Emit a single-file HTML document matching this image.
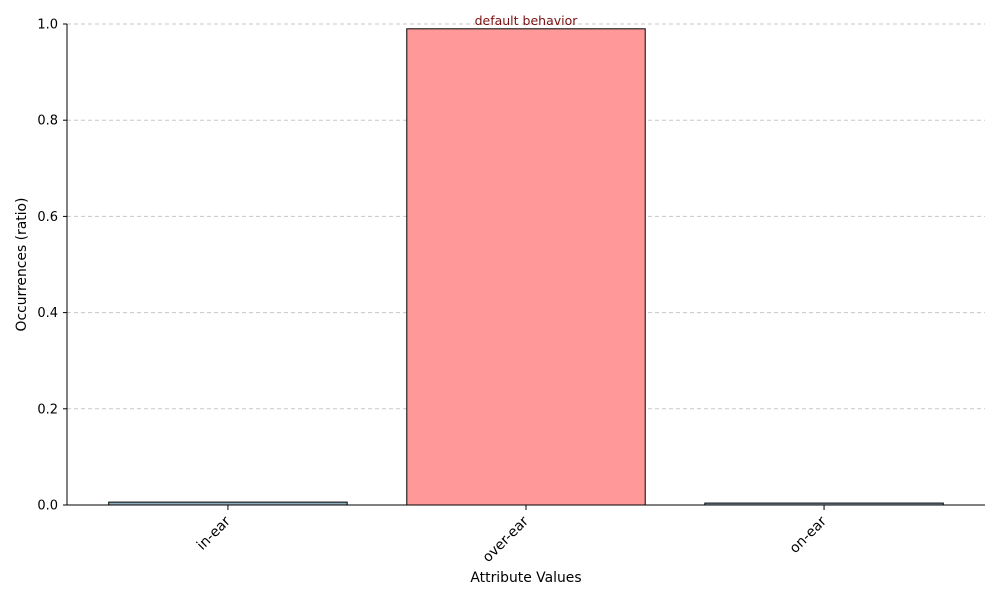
<!DOCTYPE html>
<html><head><meta charset="utf-8"><style>
body{margin:0;background:#fff;}
svg{display:block;font-family:"DejaVu Sans","Liberation Sans",sans-serif;}
</style></head><body>
<svg id="chart" width="1000" height="600"></svg>
<script>
const categories=["in-ear","over-ear","on-ear"];
const values=[0.006,0.99,0.004];
const colors=["#8fb0bb","#ff9999","#8fb0bb"];
const yTicks=[0,0.2,0.4,0.6,0.8,1.0];
const yTickLabels=["0.0","0.2","0.4","0.6","0.8","1.0"];
const annotationText="default behavior";

const NS="http://www.w3.org/2000/svg";
const svg=document.getElementById("chart");
const L=67,R=985,T=24,B=505;
const xMin=-0.54,xMax=2.54;
const x=v=>L+(v-xMin)/(xMax-xMin)*(R-L);
const y=v=>B-v/1.0*(B-T);
function mk(tag,attrs,parent){const e=document.createElementNS(NS,tag);for(const k in attrs)e.setAttribute(k,attrs[k]);(parent||svg).appendChild(e);return e;}

yTicks.forEach((t,i)=>{
  if(t>0){const g=mk("line",{x1:L,x2:R,y1:y(t),y2:y(t),stroke:"#c8c8c8","stroke-dasharray":"4,3","stroke-width":1});
  
  }
  const tk=mk("line",{x1:L-4,x2:L,y1:y(t),y2:y(t),stroke:"#000"});
  
  
  const lb=mk("text",{x:L-9,y:y(t)+4.5,"text-anchor":"end","font-size":13});
  lb.textContent=yTickLabels[i];
  
  
});
categories.forEach((c,i)=>{
  const x0=x(i-0.4),x1=x(i+0.4);
  const r=mk("rect",{x:x0,y:y(values[i]),width:x1-x0,height:B-y(values[i]),fill:colors[i],stroke:"#000","stroke-width":1});
  
  
  const tk=mk("line",{x1:x(i),x2:x(i),y1:B,y2:B+5,stroke:"#000"});
  
  
  const cx=x(i)+3,cy=B+17;
  const lb=mk("text",{x:cx,y:cy,"text-anchor":"end","font-size":13.9,transform:`rotate(-45 ${cx} ${cy})`});
  lb.textContent=c;
  
  
});
const maxI=values.indexOf(Math.max(...values));
const an=mk("text",{x:x(maxI),y:y(values[maxI])-4,"text-anchor":"middle","font-size":12.5,fill:"#7a1010"});
an.textContent=annotationText;


const ya=mk("line",{x1:L,x2:L,y1:T,y2:B,stroke:"#000"});


const xa=mk("line",{x1:L,x2:R,y1:B,y2:B,stroke:"#000"});


const xt=mk("text",{x:(L+R)/2,y:582,"text-anchor":"middle","font-size":13.9});
xt.textContent="Attribute Values";


const yt=mk("text",{x:26,y:(T+B)/2,"text-anchor":"middle","font-size":13.9,transform:`rotate(-90 26 ${(T+B)/2})`});
yt.textContent="Occurrences (ratio)";


</script>
</body></html>
